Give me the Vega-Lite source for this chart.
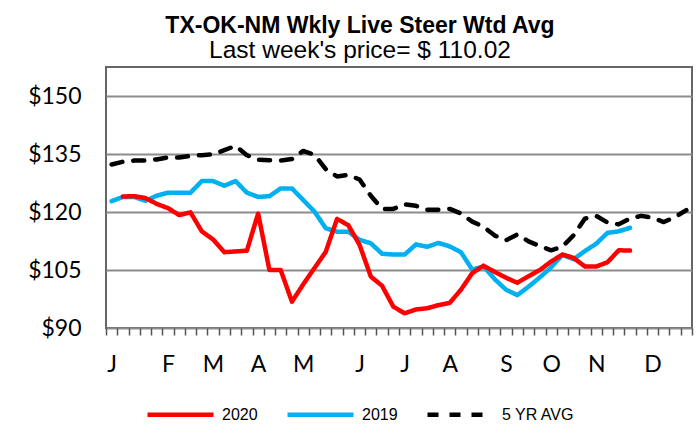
{
  "$schema": "https://vega.github.io/schema/vega-lite/v6.json",
  "width": 586,
  "height": 261,
  "autosize": {"type": "none"},
  "padding": {"left": 106, "top": 67, "right": 7, "bottom": 104},
  "background": "white",
  "title": {
    "text": "TX-OK-NM Wkly Live Steer Wtd Avg",
    "subtitle": "Last week's price= $ 110.02",
    "anchor": "middle",
    "frame": "group",
    "dx": -39,
    "offset": 5,
    "font": "Liberation Sans",
    "fontSize": 23,
    "fontWeight": "bold",
    "color": "#000000",
    "subtitleFont": "Liberation Sans",
    "subtitleFontSize": 24.5,
    "subtitleColor": "#000000",
    "subtitlePadding": 1
  },
  "config": {
    "font": "Liberation Sans",
    "view": {"stroke": "#666666", "strokeWidth": 2},
    "legend": {
      "orient": "none",
      "legendX": 39,
      "legendY": 312,
      "direction": "horizontal",
      "symbolType": "stroke",
      "symbolSize": 4356,
      "symbolStrokeWidth": 4.5,
      "labelFont": "Liberation Sans",
      "labelFontSize": 16,
      "labelColor": "#000000",
      "labelOffset": 6,
      "columnPadding": 20,
      "padding": 0,
      "title": null
    }
  },
  "data": {
    "values": [
      {"w": 0, "y2020": null, "y2019": 122.8, "avg5": 132.3},
      {"w": 1, "y2020": 124.0, "y2019": 123.9, "avg5": 133.0},
      {"w": 2, "y2020": 124.1, "y2019": 123.9, "avg5": 133.3},
      {"w": 3, "y2020": 123.6, "y2019": 122.9, "avg5": 133.3},
      {"w": 4, "y2020": 122.1, "y2019": 124.2, "avg5": 133.6},
      {"w": 5, "y2020": 121.0, "y2019": 125.0, "avg5": 134.1},
      {"w": 6, "y2020": 119.2, "y2019": 125.0, "avg5": 134.1},
      {"w": 7, "y2020": 119.9, "y2019": 125.0, "avg5": 134.5},
      {"w": 8, "y2020": 115.0, "y2019": 128.0, "avg5": 134.7},
      {"w": 9, "y2020": 112.9, "y2019": 128.0, "avg5": 134.9},
      {"w": 10, "y2020": 109.6, "y2019": 126.8, "avg5": 136.0},
      {"w": 11, "y2020": 109.8, "y2019": 128.0, "avg5": 137.1},
      {"w": 12, "y2020": 110.0, "y2019": 125.0, "avg5": 134.7},
      {"w": 13, "y2020": 119.6, "y2019": 123.9, "avg5": 133.5},
      {"w": 14, "y2020": 105.0, "y2019": 124.1, "avg5": 133.4},
      {"w": 15, "y2020": 105.0, "y2019": 126.1, "avg5": 133.3},
      {"w": 16, "y2020": 96.8, "y2019": 126.1, "avg5": 133.7},
      {"w": 17, "y2020": 101.3, "y2019": 123.1, "avg5": 135.8},
      {"w": 18, "y2020": 105.5, "y2019": 120.1, "avg5": 134.8},
      {"w": 19, "y2020": 109.7, "y2019": 115.8, "avg5": 131.1},
      {"w": 20, "y2020": 118.2, "y2019": 114.9, "avg5": 129.2},
      {"w": 21, "y2020": 116.6, "y2019": 114.9, "avg5": 129.6},
      {"w": 22, "y2020": 111.5, "y2019": 112.8, "avg5": 128.4},
      {"w": 23, "y2020": 103.3, "y2019": 111.9, "avg5": 124.2},
      {"w": 24, "y2020": 100.9, "y2019": 109.2, "avg5": 120.8},
      {"w": 25, "y2020": 95.5, "y2019": 109.0, "avg5": 120.8},
      {"w": 26, "y2020": 93.8, "y2019": 109.0, "avg5": 122.0},
      {"w": 27, "y2020": 94.8, "y2019": 111.6, "avg5": 121.6},
      {"w": 28, "y2020": 95.1, "y2019": 111.0, "avg5": 120.6},
      {"w": 29, "y2020": 95.9, "y2019": 112.0, "avg5": 120.6},
      {"w": 30, "y2020": 96.5, "y2019": 111.1, "avg5": 120.8},
      {"w": 31, "y2020": 99.9, "y2019": 109.6, "avg5": 119.6},
      {"w": 32, "y2020": 104.2, "y2019": 105.1, "avg5": 117.5},
      {"w": 33, "y2020": 106.1, "y2019": 105.9, "avg5": 116.2},
      {"w": 34, "y2020": 104.5, "y2019": 102.6, "avg5": 113.9},
      {"w": 35, "y2020": 103.0, "y2019": 99.9, "avg5": 112.7},
      {"w": 36, "y2020": 101.7, "y2019": 98.5, "avg5": 114.2},
      {"w": 37, "y2020": 103.4, "y2019": 100.7, "avg5": 112.4},
      {"w": 38, "y2020": 105.0, "y2019": 103.1, "avg5": 111.2},
      {"w": 39, "y2020": 107.2, "y2019": 105.7, "avg5": 110.1},
      {"w": 40, "y2020": 109.0, "y2019": 108.9, "avg5": 111.0},
      {"w": 41, "y2020": 108.1, "y2019": 107.8, "avg5": 114.0},
      {"w": 42, "y2020": 105.9, "y2019": 109.9, "avg5": 118.3},
      {"w": 43, "y2020": 105.9, "y2019": 111.8, "avg5": 119.0},
      {"w": 44, "y2020": 107.0, "y2019": 114.6, "avg5": 117.3},
      {"w": 45, "y2020": 110.1, "y2019": 115.0, "avg5": 116.8},
      {"w": 46, "y2020": 110.02, "y2019": 115.9, "avg5": 118.3},
      {"w": 47, "y2020": null, "y2019": null, "avg5": 119.0},
      {"w": 48, "y2020": null, "y2019": null, "avg5": 118.5},
      {"w": 49, "y2020": null, "y2019": null, "avg5": 117.4},
      {"w": 50, "y2020": null, "y2019": null, "avg5": 118.7},
      {"w": 51, "y2020": null, "y2019": null, "avg5": 120.5}
    ]
  },
  "encoding": {
    "x": {
      "field": "w",
      "type": "quantitative",
      "scale": {"domain": [-0.5, 51.5], "nice": false, "zero": false},
      "axis": {
        "title": null,
        "values": [-0.5, 0.5, 1.5, 2.5, 3.5, 4.5, 5.5, 6.5, 7.5, 8.5, 9.5, 10.5, 11.5, 12.5, 13.5, 14.5, 15.5, 16.5, 17.5, 18.5, 19.5, 20.5, 21.5, 22.5, 23.5, 24.5, 25.5, 26.5, 27.5, 28.5, 29.5, 30.5, 31.5, 32.5, 33.5, 34.5, 35.5, 36.5, 37.5, 38.5, 39.5, 40.5, 41.5, 42.5, 43.5, 44.5, 45.5, 46.5, 47.5, 48.5, 49.5, 50.5, 51.5],
        "labelExpr": "datum.value==-0.5?'J':datum.value==4.5?'F':datum.value==8.5?'M':datum.value==12.5?'A':datum.value==16.5?'M':datum.value==21.5?'J':datum.value==25.5?'J':datum.value==29.5?'A':datum.value==34.5?'S':datum.value==38.5?'O':datum.value==42.5?'N':datum.value==47.5?'D':''",
        "labelOffset": 5.6,
        "labelFlush": false,
        "labelOverlap": false,
        "labelBound": false,
        "labelAlign": "center",
        "labelFont": "Lato",
        "labelFontSize": 23,
        "labelColor": "#000000",
        "labelPadding": 18,
        "tickSize": 7,
        "tickColor": "#555555",
        "tickWidth": 1.5,
        "domain": false,
        "grid": false
      }
    }
  },
  "layer": [
    {
      "mark": {"type": "line", "strokeWidth": 4.5, "strokeCap": "round", "strokeJoin": "round"},
      "encoding": {
        "y": {
          "field": "avg5",
          "type": "quantitative",
          "scale": {"domain": [90, 157.5], "nice": false, "zero": false},
          "axis": {
            "title": null,
            "values": [90, 105, 120, 135, 150],
            "labelExpr": "'$' + datum.value",
            "labelFont": "Lato",
            "labelFontSize": 23,
            "labelColor": "#000000",
            "labelPadding": 25,
            "ticks": false,
            "domain": false,
            "grid": true,
            "gridColor": "#8c8c8c",
            "gridWidth": 2
          }
        },
        "color": {"datum": "5 YR AVG", "scale": {"domain": ["2020", "2019", "5 YR AVG"], "range": ["#ff0000", "#00b0f0", "#000000"]}},
        "strokeDash": {"datum": "5 YR AVG", "scale": {"domain": ["2020", "2019", "5 YR AVG"], "range": [[1, 0], [1, 0], [11, 11]]}}
      }
    },
    {
      "mark": {"type": "line", "strokeWidth": 4.5, "strokeCap": "round", "strokeJoin": "round"},
      "encoding": {
        "y": {"field": "y2019", "type": "quantitative"},
        "color": {"datum": "2019"},
        "strokeDash": {"datum": "2019"}
      }
    },
    {
      "mark": {"type": "line", "strokeWidth": 4.5, "strokeCap": "round", "strokeJoin": "round"},
      "encoding": {
        "y": {"field": "y2020", "type": "quantitative"},
        "color": {"datum": "2020"},
        "strokeDash": {"datum": "2020"}
      }
    }
  ]
}
